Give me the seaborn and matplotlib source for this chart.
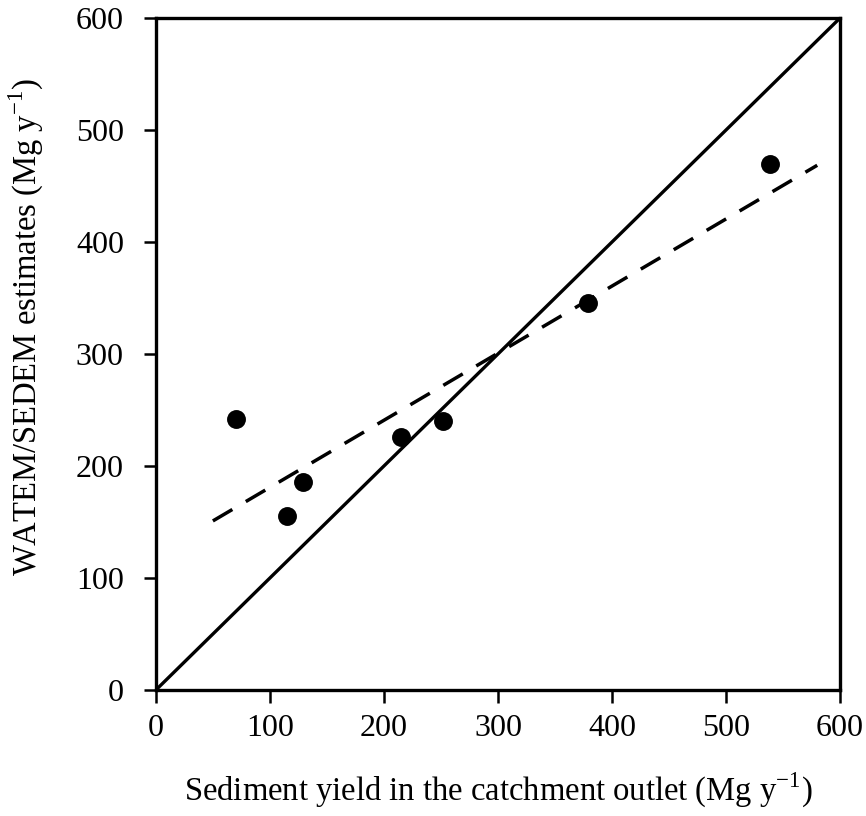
import numpy as np
import pandas as pd
import matplotlib
matplotlib.use("Agg")
import matplotlib.pyplot as plt
import seaborn as sns

# Data
observed = [70, 115, 129, 215, 252, 379, 539]      # Sediment yield in the catchment outlet
estimated = [242, 155, 186, 226, 240, 346, 470]    # WATEM/SEDEM estimates
fit_range = [50, 580]                               # x-extent of the regression line
one_to_one = [0, 600]
ticks = [0, 100, 200, 300, 400, 500, 600]

sns.set_theme(style="white")
plt.rcParams['font.family'] = ['Liberation Serif', 'DejaVu Serif']
plt.rcParams['mathtext.fontset'] = 'custom'
plt.rcParams['mathtext.rm'] = 'Liberation Serif'
plt.rcParams['text.color'] = 'black'
plt.rcParams['axes.labelcolor'] = 'black'
plt.rcParams['xtick.color'] = 'black'
plt.rcParams['ytick.color'] = 'black'

fig = plt.figure(figsize=(8.66, 8.16), dpi=100)
ax = fig.add_axes([0.180, 0.1544, 0.790, 0.8235])

df = pd.DataFrame({"obs": observed, "est": estimated})

# 1:1 line
sns.lineplot(x=one_to_one, y=one_to_one, ax=ax, color="black", lw=2.4)

# regression line
slope, intercept = np.polyfit(observed, estimated, 1)
fx = np.array(fit_range, dtype=float)
sns.lineplot(x=fx, y=slope * fx + intercept, ax=ax, color="black", lw=2.5,
             linestyle=(0, (6.5, 4.5)))

sns.scatterplot(data=df, x="obs", y="est", ax=ax, color="black", s=185,
                edgecolor="black", linewidth=0, zorder=5)

ax.set_xlim(0, 600)
ax.set_ylim(0, 600)
ax.set_xticks(ticks)
ax.set_yticks(ticks)
ax.tick_params(axis="both", which="major", direction="out", length=9, width=1.8,
               labelsize=23, colors="black")
ax.tick_params(axis="x", top=False, bottom=True, pad=8)
ax.tick_params(axis="y", left=True, right=False, pad=14)
for sp in ax.spines.values():
    sp.set_visible(True)
    sp.set_color("black")
    sp.set_linewidth(2.4)

ax.set_xlabel(r"Sediment yield in the catchment outlet (Mg y$^{\mathregular{-1}}$)",
              fontsize=23.5, labelpad=20)
ax.set_ylabel(r"WATEM/SEDEM estimates (Mg y$^{\mathregular{-1}}$)",
              fontsize=23.5)
ax.yaxis.set_label_coords(-0.160, 0.540)
ax.grid(False)

fig.savefig("out.png", dpi=100, facecolor="white")
